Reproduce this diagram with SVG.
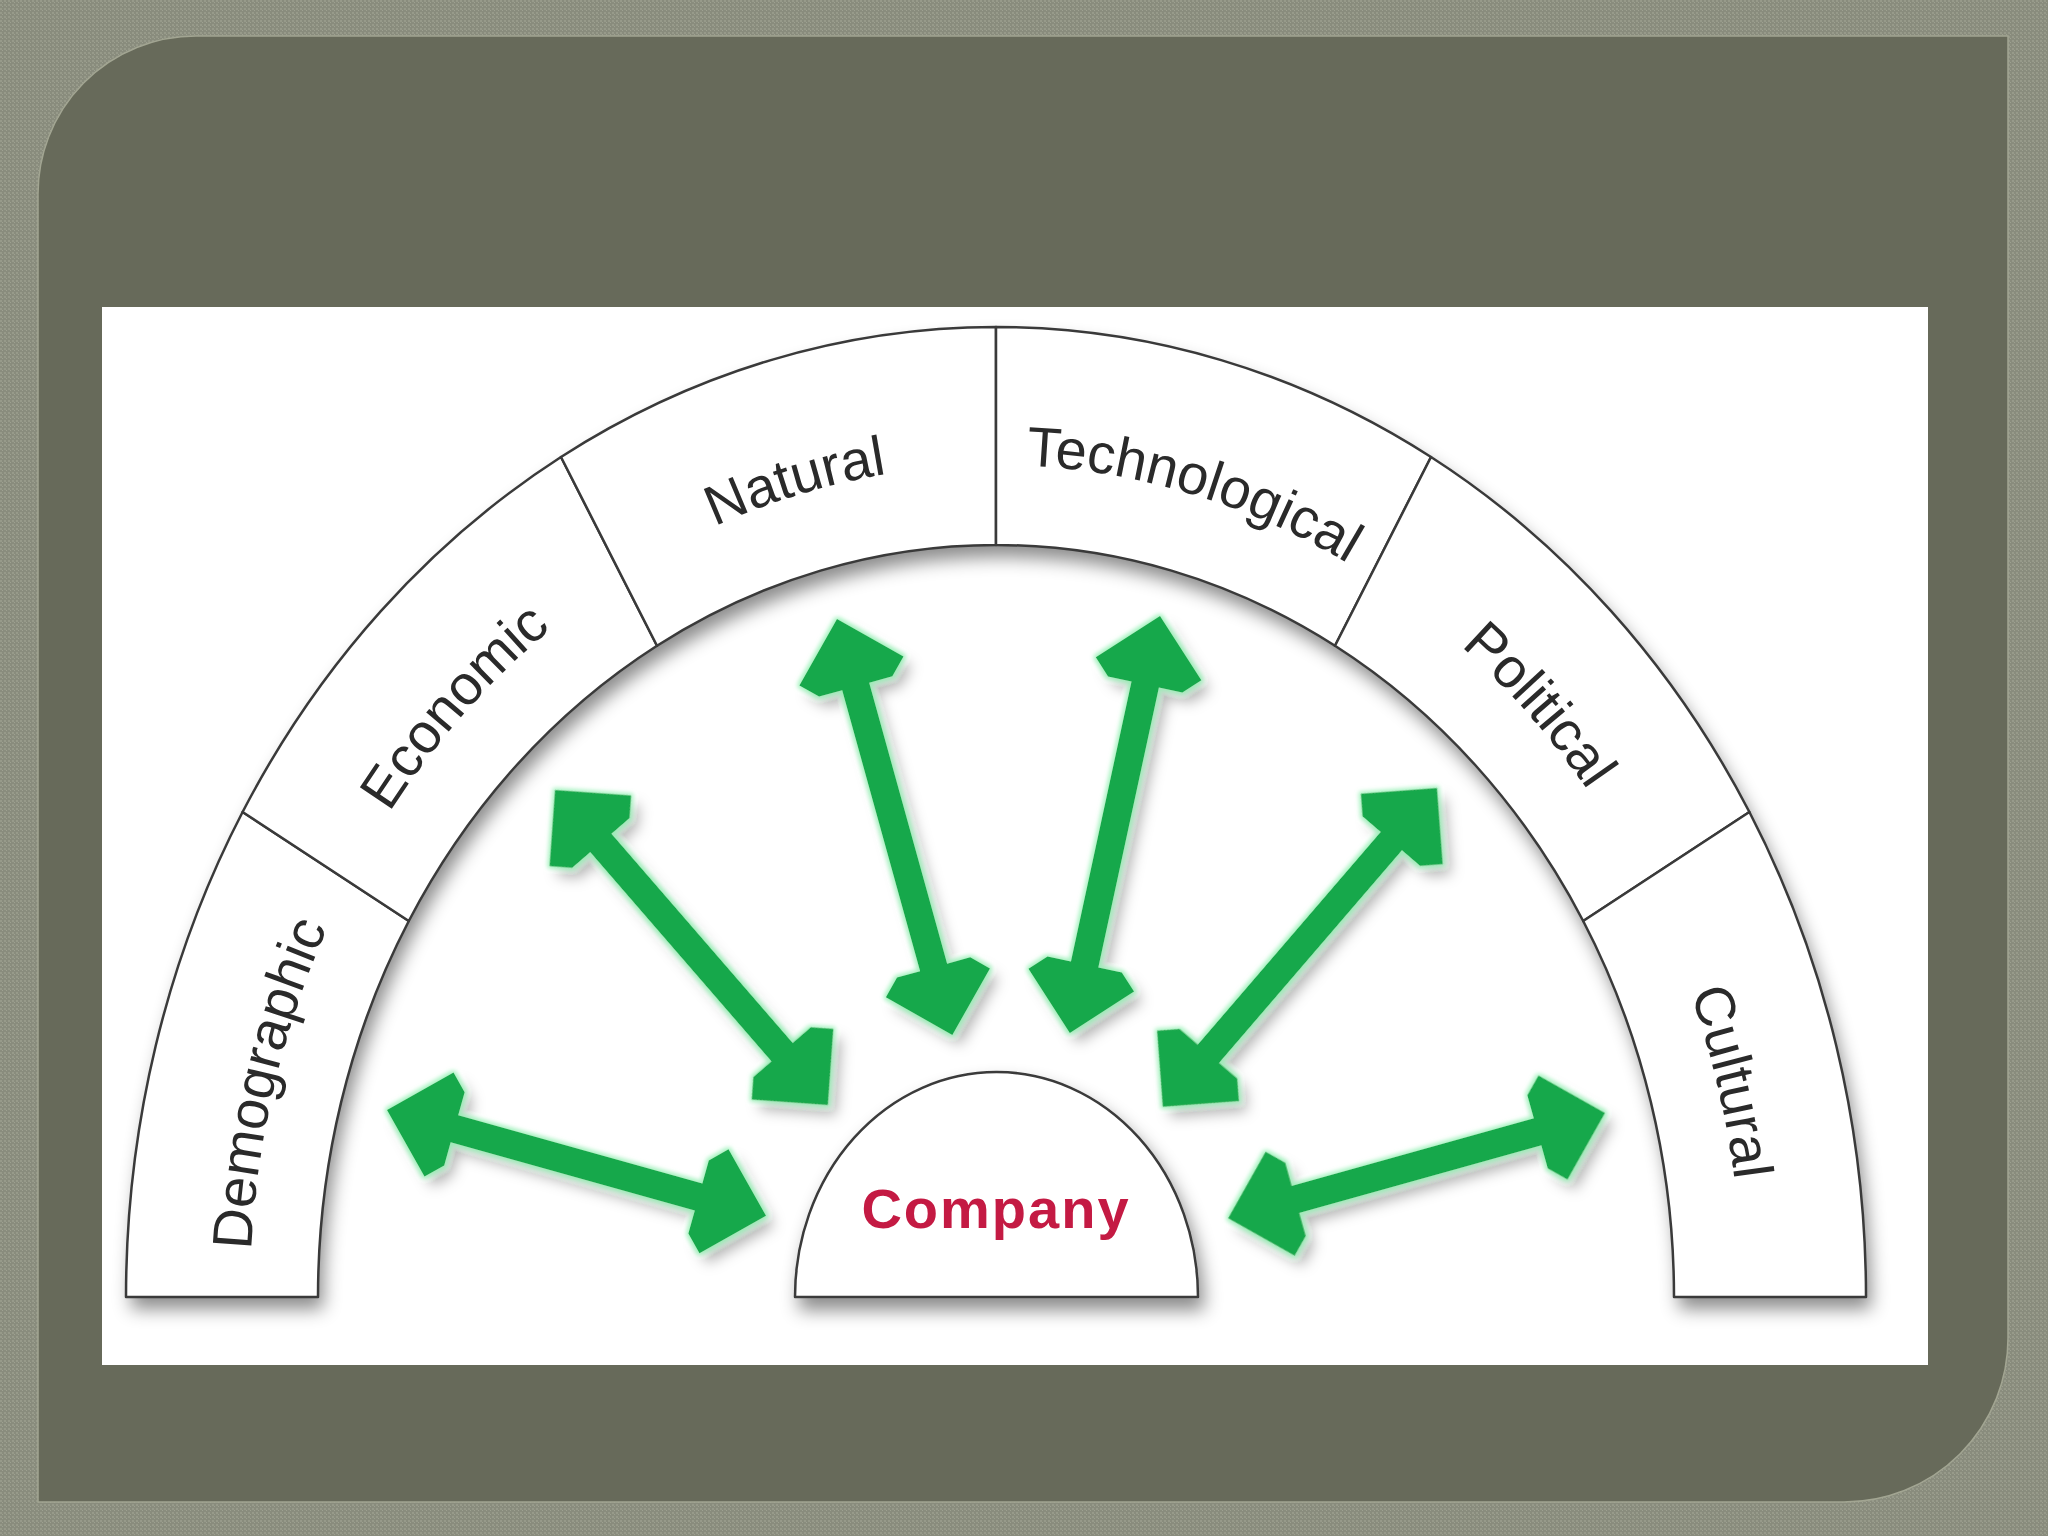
<svg xmlns="http://www.w3.org/2000/svg" width="2048" height="1536" viewBox="0 0 2048 1536">
<defs>
<style>
.seg{fill:#ffffff;stroke:#3a3a3a;stroke-width:2.5;stroke-linejoin:round}
.lbl{font-family:"Liberation Sans",Arial,Helvetica,sans-serif;font-size:56px;fill:#2a2a2a}
.arr{fill:#18a84c}
.co{font-family:"Liberation Sans",Arial,Helvetica,sans-serif;font-size:56px;font-weight:bold;fill:#c41a43;letter-spacing:2px}
</style>
<pattern id="tex" width="4" height="4" patternUnits="userSpaceOnUse">
<rect width="4" height="4" fill="#898c7d"/>
<rect x="0" y="0" width="2" height="2" fill="#979a8a"/>
<rect x="2" y="2" width="1" height="1" fill="#9ea191"/>
</pattern>
<filter id="shadow" x="-10%" y="-10%" width="125%" height="125%">
<feDropShadow dx="5" dy="12" stdDeviation="9" flood-color="#000" flood-opacity="0.45"/>
</filter>
<filter id="arrowFx" x="-20%" y="-20%" width="140%" height="140%">
<feGaussianBlur in="SourceAlpha" stdDeviation="7" result="b"/>
<feOffset in="b" dx="8" dy="10" result="ob"/>
<feFlood flood-color="#000" flood-opacity="0.3"/>
<feComposite in2="ob" operator="in" result="sh"/>
<feMorphology in="SourceAlpha" operator="dilate" radius="2" result="d"/>
<feGaussianBlur in="d" stdDeviation="2" result="db"/>
<feFlood flood-color="#8ff0b0" flood-opacity="0.8"/>
<feComposite in2="db" operator="in" result="glow"/>
<feMerge><feMergeNode in="sh"/><feMergeNode in="glow"/><feMergeNode in="SourceGraphic"/></feMerge>
</filter>
<path id="p1" d="M 261.3 1441.4 A 746 832 0 0 1 424.6 762.2"/>
<path id="p2" d="M 295.0 1012.5 A 746 832 0 0 1 740.9 515.2"/>
<path id="p3" d="M 516.5 659.7 A 746 832 0 0 1 1125.5 477.6"/>
<path id="p4" d="M 866.5 477.6 A 746 832 0 0 1 1475.5 659.7"/>
<path id="p5" d="M 1251.1 515.2 A 746 832 0 0 1 1697.0 1012.5"/>
<path id="p6" d="M 1567.4 762.2 A 746 832 0 0 1 1730.7 1441.4"/>
</defs>

<g id="background">
<rect width="2048" height="1536" fill="url(#tex)"/>
<path d="M 38 196 A 158 158 0 0 1 196 36 L 2008 36 L 2008 1338 A 164 164 0 0 1 1844 1502 L 38 1502 Z" fill="#676a5a" stroke="#a2a592" stroke-width="1.5"/>
<rect x="102" y="307" width="1826" height="1058" fill="#ffffff"/>
</g>

<path id="band-shadow" d="M 126 1297 A 870 970 0 0 1 1866 1297 L 1674 1297 A 678 752 0 0 0 318 1297 Z" fill="#ffffff" filter="url(#shadow)"/>

<g id="node-demographic">
<path class="seg" d="M 126 1297 A 870 970 0 0 1 242.6 812 L 408.8 921 A 678 752 0 0 0 318 1297 Z"/>
<text class="lbl" font-size="58"><textPath href="#p1" startOffset="50%" text-anchor="middle">Demographic</textPath></text>
</g>
<g id="node-economic">
<path class="seg" d="M 242.6 812 A 870 970 0 0 1 561 457 L 657 645.8 A 678 752 0 0 0 408.8 921 Z"/>
<text class="lbl" font-size="58"><textPath href="#p2" startOffset="50%" text-anchor="middle">Economic</textPath></text>
</g>
<g id="node-natural">
<path class="seg" d="M 561 457 A 870 970 0 0 1 996 327 L 996 545 A 678 752 0 0 0 657 645.8 Z"/>
<text class="lbl"><textPath href="#p3" startOffset="50%" text-anchor="middle">Natural</textPath></text>
</g>
<g id="node-technological">
<path class="seg" d="M 996 327 A 870 970 0 0 1 1431 457 L 1335 645.8 A 678 752 0 0 0 996 545 Z"/>
<text class="lbl" font-size="54"><textPath href="#p4" startOffset="50%" text-anchor="middle">Technological</textPath></text>
</g>
<g id="node-political">
<path class="seg" d="M 1431 457 A 870 970 0 0 1 1749.4 812 L 1583.2 921 A 678 752 0 0 0 1335 645.8 Z"/>
<text class="lbl"><textPath href="#p5" startOffset="50%" text-anchor="middle">Political</textPath></text>
</g>
<g id="node-cultural">
<path class="seg" d="M 1749.4 812 A 870 970 0 0 1 1866 1297 L 1674 1297 A 678 752 0 0 0 1583.2 921 Z"/>
<text class="lbl" font-size="58"><textPath href="#p6" startOffset="50%" text-anchor="middle">Cultural</textPath></text>
</g>

<g id="node-company">
<path class="seg" d="M 795 1297 A 201.5 225 0 0 1 1198 1297 Z" filter="url(#shadow)"/>
<text class="co" x="996" y="1228" text-anchor="middle">Company</text>
</g>

<g id="connectors" filter="url(#arrowFx)">
<polygon class="arr" transform="translate(387 1110) rotate(15.6)" points="0,0 54,-54 70,-38 70,-14 323.5,-14 323.5,-38 339.5,-54 393.5,0 339.5,54 323.5,38 323.5,14 70,14 70,38 54,54"/>
<polygon class="arr" transform="translate(555 790) rotate(49.1)" points="0,0 54,-54 70,-38 70,-14 346.8,-14 346.8,-38 362.8,-54 416.8,0 362.8,54 346.8,38 346.8,14 70,14 70,38 54,54"/>
<polygon class="arr" transform="translate(837 619) rotate(74.5)" points="0,0 54,-54 70,-38 70,-14 361.6,-14 361.6,-38 377.6,-54 431.6,0 377.6,54 361.6,38 361.6,14 70,14 70,38 54,54"/>
<polygon class="arr" transform="translate(1160 616) rotate(102.2)" points="0,0 54,-54 70,-38 70,-14 356.6,-14 356.6,-38 372.6,-54 426.6,0 372.6,54 356.6,38 356.6,14 70,14 70,38 54,54"/>
<polygon class="arr" transform="translate(1437 788) rotate(130.7)" points="0,0 54,-54 70,-38 70,-14 350.5,-14 350.5,-38 366.5,-54 420.5,0 366.5,54 350.5,38 350.5,14 70,14 70,38 54,54"/>
<polygon class="arr" transform="translate(1605 1113) rotate(164.4)" points="0,0 54,-54 70,-38 70,-14 321.3,-14 321.3,-38 337.3,-54 391.3,0 337.3,54 321.3,38 321.3,14 70,14 70,38 54,54"/>
</g>
</svg>
